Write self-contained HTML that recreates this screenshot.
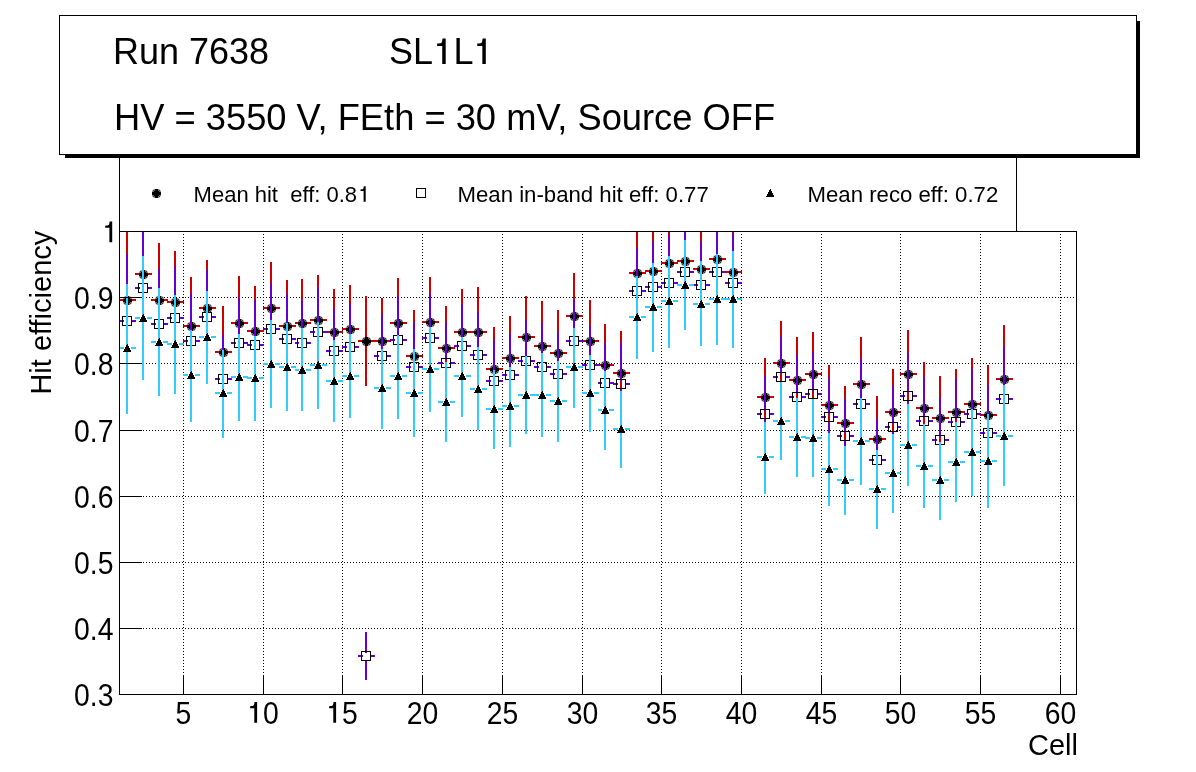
<!DOCTYPE html>
<html><head><meta charset="utf-8"><style>
html,body{margin:0;padding:0;background:#fff;}
svg{display:block;white-space:pre;will-change:transform;font-family:"Liberation Sans",sans-serif;}
</style></head><body>
<svg width="1196" height="772" viewBox="0 0 1196 772">
<rect x="0" y="0" width="1196" height="772" fill="#fff"/>
<defs><g id="m20" shape-rendering="crispEdges">
<rect x="-1" y="-4" width="3" height="9" fill="#000"/>
<rect x="-2" y="-2" width="5" height="5" fill="#000"/>
<rect x="-4" y="-1" width="9" height="3" fill="#000"/>
<path d="M-3,-3h1v1h-1zM-3,3h1v1h-1zM3,-3h1v1h-1zM3,3h1v1h-1z" fill="#3a3a3a"/>
<path d="M-3,-2h1v1h-1zM-3,2h1v1h-1zM-2,-3h1v1h-1zM-2,3h1v1h-1zM2,-3h1v1h-1zM2,3h1v1h-1zM3,-2h1v1h-1zM3,2h1v1h-1z" fill="#6a6a6a"/>
<path d="M-4,-2h1v1h-1zM-4,2h1v1h-1zM-2,-4h1v1h-1zM-2,4h1v1h-1zM2,-4h1v1h-1zM2,4h1v1h-1zM4,-2h1v1h-1zM4,2h1v1h-1z" fill="#8a8a8a"/>
<path d="M-4,-3h1v1h-1zM-4,3h1v1h-1zM-3,-4h1v1h-1zM-3,4h1v1h-1zM3,-4h1v1h-1zM3,4h1v1h-1zM4,-3h1v1h-1zM4,3h1v1h-1z" fill="#c8c8c8"/>

</g><path id="m22" d="M0,-4h1v1h-1zM-1,-3h2v1h-2zM-1,-2h3v1h-3zM-2,-1h4v1h-4zM-2,0h5v1h-5zM-3,1h6v1h-6zM-3,2h7v1h-7zM-4,3h8v1h-8z" fill="#000" shape-rendering="crispEdges"/></defs>
<!-- legend box -->
<rect x="119.5" y="140.5" width="897" height="91" fill="#fff" stroke="#000" stroke-width="1"/>
<!-- title box shadow -->
<rect x="65" y="155" width="1075" height="3" fill="#000"/>
<rect x="1137" y="21" width="3" height="137" fill="#000"/>
<rect x="59.5" y="15.5" width="1077" height="139" fill="#fff" stroke="#000" stroke-width="1"/>
<g font-size="36">
<text x="113" y="64">Run 7638</text>
<text x="389" y="64">SL</text><text x="453.4" y="64">L</text><path d="M445.70,38.40 L445.70,64.00 L442.24,64.00 L442.24,46.08 L437.12,46.08 L437.12,43.52 C442.88,43.52 441.73,41.98 442.59,38.40 Z" fill="#000"/><path d="M485.80,38.40 L485.80,64.00 L482.34,64.00 L482.34,46.08 L477.22,46.08 L477.22,43.52 C482.98,43.52 481.83,41.98 482.69,38.40 Z" fill="#000"/>
<text x="114" y="130" font-size="36.3">HV = 3550 V, FEth = 30 mV, Source OFF</text>
</g>
<g font-size="22">
<use href="#m20" x="156" y="193"/>
<text x="193.6" y="202">Mean hit&#160; eff: 0.8</text><path d="M365.70,186.30 L365.70,201.80 L363.61,201.80 L363.61,190.95 L360.51,190.95 L360.51,189.40 C364.00,189.40 363.30,188.47 363.82,186.30 Z" fill="#000"/>
<rect x="416.5" y="188.5" width="9" height="9" fill="none" stroke="#000" stroke-width="1"/>
<text x="457.5" y="202" font-size="22.2">Mean in-band hit eff: 0.77</text>
<use href="#m22" x="770" y="193"/>
<text x="807.5" y="202" font-size="22.2">Mean reco eff: 0.72</text>
</g>
<!-- frame -->
<line x1="183.5" y1="231" x2="183.5" y2="694" stroke="#000" stroke-width="1" stroke-dasharray="1 2"/><line x1="263.5" y1="231" x2="263.5" y2="694" stroke="#000" stroke-width="1" stroke-dasharray="1 2"/><line x1="342.5" y1="231" x2="342.5" y2="694" stroke="#000" stroke-width="1" stroke-dasharray="1 2"/><line x1="422.5" y1="231" x2="422.5" y2="694" stroke="#000" stroke-width="1" stroke-dasharray="1 2"/><line x1="502.5" y1="231" x2="502.5" y2="694" stroke="#000" stroke-width="1" stroke-dasharray="1 2"/><line x1="582.5" y1="231" x2="582.5" y2="694" stroke="#000" stroke-width="1" stroke-dasharray="1 2"/><line x1="661.5" y1="231" x2="661.5" y2="694" stroke="#000" stroke-width="1" stroke-dasharray="1 2"/><line x1="741.5" y1="231" x2="741.5" y2="694" stroke="#000" stroke-width="1" stroke-dasharray="1 2"/><line x1="821.5" y1="231" x2="821.5" y2="694" stroke="#000" stroke-width="1" stroke-dasharray="1 2"/><line x1="900.5" y1="231" x2="900.5" y2="694" stroke="#000" stroke-width="1" stroke-dasharray="1 2"/><line x1="980.5" y1="231" x2="980.5" y2="694" stroke="#000" stroke-width="1" stroke-dasharray="1 2"/><line x1="1060.5" y1="231" x2="1060.5" y2="694" stroke="#000" stroke-width="1" stroke-dasharray="1 2"/><line x1="119" y1="628.5" x2="1076" y2="628.5" stroke="#000" stroke-width="1" stroke-dasharray="1 2"/><line x1="119" y1="562.5" x2="1076" y2="562.5" stroke="#000" stroke-width="1" stroke-dasharray="1 2"/><line x1="119" y1="496.5" x2="1076" y2="496.5" stroke="#000" stroke-width="1" stroke-dasharray="1 2"/><line x1="119" y1="430.5" x2="1076" y2="430.5" stroke="#000" stroke-width="1" stroke-dasharray="1 2"/><line x1="119" y1="363.5" x2="1076" y2="363.5" stroke="#000" stroke-width="1" stroke-dasharray="1 2"/><line x1="119" y1="297.5" x2="1076" y2="297.5" stroke="#000" stroke-width="1" stroke-dasharray="1 2"/>
<rect x="126" y="232.00" width="2" height="64.00" fill="#cc0000"/><rect x="126" y="305.00" width="2" height="70.00" fill="#cc0000"/><rect x="119" y="299" width="4" height="2" fill="#cc0000"/><rect x="132" y="299" width="4" height="2" fill="#cc0000"/><use href="#m20" x="127" y="300"/><rect x="142" y="232.00" width="2" height="38.00" fill="#cc0000"/><rect x="142" y="279.00" width="2" height="68.00" fill="#cc0000"/><rect x="135" y="273" width="4" height="2" fill="#cc0000"/><rect x="148" y="273" width="4" height="2" fill="#cc0000"/><use href="#m20" x="143" y="274"/><rect x="158" y="243.00" width="2" height="53.00" fill="#cc0000"/><rect x="158" y="305.00" width="2" height="52.00" fill="#cc0000"/><rect x="151" y="299" width="4" height="2" fill="#cc0000"/><rect x="164" y="299" width="4" height="2" fill="#cc0000"/><use href="#m20" x="159" y="300"/><rect x="174" y="251.00" width="2" height="47.00" fill="#cc0000"/><rect x="174" y="307.00" width="2" height="45.00" fill="#cc0000"/><rect x="167" y="301" width="4" height="2" fill="#cc0000"/><rect x="180" y="301" width="4" height="2" fill="#cc0000"/><use href="#m20" x="175" y="302"/><rect x="190" y="277.00" width="2" height="45.00" fill="#cc0000"/><rect x="190" y="331.00" width="2" height="43.00" fill="#cc0000"/><rect x="183" y="325" width="4" height="2" fill="#cc0000"/><rect x="196" y="325" width="4" height="2" fill="#cc0000"/><use href="#m20" x="191" y="326"/><rect x="206" y="260.00" width="2" height="44.00" fill="#cc0000"/><rect x="206" y="313.00" width="2" height="43.00" fill="#cc0000"/><rect x="199" y="307" width="4" height="2" fill="#cc0000"/><rect x="212" y="307" width="4" height="2" fill="#cc0000"/><use href="#m20" x="207" y="308"/><rect x="222" y="306.00" width="2" height="42.00" fill="#cc0000"/><rect x="222" y="357.00" width="2" height="41.00" fill="#cc0000"/><rect x="215" y="351" width="4" height="2" fill="#cc0000"/><rect x="228" y="351" width="4" height="2" fill="#cc0000"/><use href="#m20" x="223" y="352"/><rect x="238" y="276.00" width="2" height="43.00" fill="#cc0000"/><rect x="238" y="328.00" width="2" height="42.00" fill="#cc0000"/><rect x="231" y="322" width="4" height="2" fill="#cc0000"/><rect x="244" y="322" width="4" height="2" fill="#cc0000"/><use href="#m20" x="239" y="323"/><rect x="254" y="286.00" width="2" height="41.00" fill="#cc0000"/><rect x="254" y="336.00" width="2" height="40.00" fill="#cc0000"/><rect x="247" y="330" width="4" height="2" fill="#cc0000"/><rect x="260" y="330" width="4" height="2" fill="#cc0000"/><use href="#m20" x="255" y="331"/><rect x="270" y="262.00" width="2" height="42.00" fill="#cc0000"/><rect x="270" y="313.00" width="2" height="41.00" fill="#cc0000"/><rect x="263" y="307" width="4" height="2" fill="#cc0000"/><rect x="276" y="307" width="4" height="2" fill="#cc0000"/><use href="#m20" x="271" y="308"/><rect x="286" y="280.00" width="2" height="42.00" fill="#cc0000"/><rect x="286" y="331.00" width="2" height="41.00" fill="#cc0000"/><rect x="279" y="325" width="4" height="2" fill="#cc0000"/><rect x="292" y="325" width="4" height="2" fill="#cc0000"/><use href="#m20" x="287" y="326"/><rect x="301" y="279.00" width="2" height="40.00" fill="#cc0000"/><rect x="301" y="328.00" width="2" height="40.00" fill="#cc0000"/><rect x="295" y="322" width="3" height="2" fill="#cc0000"/><rect x="307" y="322" width="4" height="2" fill="#cc0000"/><use href="#m20" x="302" y="323"/><rect x="317" y="275.00" width="2" height="41.00" fill="#cc0000"/><rect x="317" y="325.00" width="2" height="39.00" fill="#cc0000"/><rect x="310" y="319" width="4" height="2" fill="#cc0000"/><rect x="323" y="319" width="4" height="2" fill="#cc0000"/><use href="#m20" x="318" y="320"/><rect x="333" y="289.00" width="2" height="39.00" fill="#cc0000"/><rect x="333" y="337.00" width="2" height="38.00" fill="#cc0000"/><rect x="326" y="331" width="4" height="2" fill="#cc0000"/><rect x="339" y="331" width="4" height="2" fill="#cc0000"/><use href="#m20" x="334" y="332"/><rect x="349" y="285.00" width="2" height="40.00" fill="#cc0000"/><rect x="349" y="334.00" width="2" height="39.00" fill="#cc0000"/><rect x="342" y="328" width="4" height="2" fill="#cc0000"/><rect x="355" y="328" width="4" height="2" fill="#cc0000"/><use href="#m20" x="350" y="329"/><rect x="365" y="296.00" width="2" height="41.00" fill="#cc0000"/><rect x="365" y="346.00" width="2" height="40.00" fill="#cc0000"/><rect x="358" y="340" width="4" height="2" fill="#cc0000"/><rect x="371" y="340" width="4" height="2" fill="#cc0000"/><use href="#m20" x="366" y="341"/><rect x="381" y="298.00" width="2" height="39.00" fill="#cc0000"/><rect x="381" y="346.00" width="2" height="38.00" fill="#cc0000"/><rect x="374" y="340" width="4" height="2" fill="#cc0000"/><rect x="387" y="340" width="4" height="2" fill="#cc0000"/><use href="#m20" x="382" y="341"/><rect x="397" y="278.00" width="2" height="41.00" fill="#cc0000"/><rect x="397" y="328.00" width="2" height="40.00" fill="#cc0000"/><rect x="390" y="322" width="4" height="2" fill="#cc0000"/><rect x="403" y="322" width="4" height="2" fill="#cc0000"/><use href="#m20" x="398" y="323"/><rect x="413" y="310.00" width="2" height="42.00" fill="#cc0000"/><rect x="413" y="361.00" width="2" height="41.00" fill="#cc0000"/><rect x="406" y="355" width="4" height="2" fill="#cc0000"/><rect x="419" y="355" width="4" height="2" fill="#cc0000"/><use href="#m20" x="414" y="356"/><rect x="429" y="277.00" width="2" height="41.00" fill="#cc0000"/><rect x="429" y="327.00" width="2" height="40.00" fill="#cc0000"/><rect x="422" y="321" width="4" height="2" fill="#cc0000"/><rect x="435" y="321" width="4" height="2" fill="#cc0000"/><use href="#m20" x="430" y="322"/><rect x="445" y="306.00" width="2" height="38.00" fill="#cc0000"/><rect x="445" y="353.00" width="2" height="37.00" fill="#cc0000"/><rect x="438" y="347" width="4" height="2" fill="#cc0000"/><rect x="451" y="347" width="4" height="2" fill="#cc0000"/><use href="#m20" x="446" y="348"/><rect x="461" y="289.00" width="2" height="39.00" fill="#cc0000"/><rect x="461" y="337.00" width="2" height="37.00" fill="#cc0000"/><rect x="454" y="331" width="4" height="2" fill="#cc0000"/><rect x="467" y="331" width="4" height="2" fill="#cc0000"/><use href="#m20" x="462" y="332"/><rect x="477" y="287.00" width="2" height="41.00" fill="#cc0000"/><rect x="477" y="337.00" width="2" height="39.00" fill="#cc0000"/><rect x="470" y="331" width="4" height="2" fill="#cc0000"/><rect x="483" y="331" width="4" height="2" fill="#cc0000"/><use href="#m20" x="478" y="332"/><rect x="493" y="327.00" width="2" height="38.00" fill="#cc0000"/><rect x="493" y="374.00" width="2" height="37.00" fill="#cc0000"/><rect x="486" y="368" width="4" height="2" fill="#cc0000"/><rect x="499" y="368" width="4" height="2" fill="#cc0000"/><use href="#m20" x="494" y="369"/><rect x="509" y="316.00" width="2" height="38.00" fill="#cc0000"/><rect x="509" y="363.00" width="2" height="37.00" fill="#cc0000"/><rect x="502" y="357" width="4" height="2" fill="#cc0000"/><rect x="515" y="357" width="4" height="2" fill="#cc0000"/><use href="#m20" x="510" y="358"/><rect x="525" y="296.00" width="2" height="37.00" fill="#cc0000"/><rect x="525" y="342.00" width="2" height="36.00" fill="#cc0000"/><rect x="518" y="336" width="4" height="2" fill="#cc0000"/><rect x="531" y="336" width="4" height="2" fill="#cc0000"/><use href="#m20" x="526" y="337"/><rect x="541" y="301.00" width="2" height="41.00" fill="#cc0000"/><rect x="541" y="351.00" width="2" height="40.00" fill="#cc0000"/><rect x="534" y="345" width="4" height="2" fill="#cc0000"/><rect x="547" y="345" width="4" height="2" fill="#cc0000"/><use href="#m20" x="542" y="346"/><rect x="557" y="310.00" width="2" height="39.00" fill="#cc0000"/><rect x="557" y="358.00" width="2" height="38.00" fill="#cc0000"/><rect x="550" y="352" width="4" height="2" fill="#cc0000"/><rect x="563" y="352" width="4" height="2" fill="#cc0000"/><use href="#m20" x="558" y="353"/><rect x="573" y="273.00" width="2" height="39.00" fill="#cc0000"/><rect x="573" y="321.00" width="2" height="38.00" fill="#cc0000"/><rect x="566" y="315" width="4" height="2" fill="#cc0000"/><rect x="579" y="315" width="4" height="2" fill="#cc0000"/><use href="#m20" x="574" y="316"/><rect x="589" y="300.00" width="2" height="37.00" fill="#cc0000"/><rect x="589" y="346.00" width="2" height="36.00" fill="#cc0000"/><rect x="582" y="340" width="4" height="2" fill="#cc0000"/><rect x="595" y="340" width="4" height="2" fill="#cc0000"/><use href="#m20" x="590" y="341"/><rect x="604" y="324.00" width="2" height="37.00" fill="#cc0000"/><rect x="604" y="370.00" width="2" height="35.00" fill="#cc0000"/><rect x="598" y="364" width="3" height="2" fill="#cc0000"/><rect x="610" y="364" width="4" height="2" fill="#cc0000"/><use href="#m20" x="605" y="365"/><rect x="620" y="331.00" width="2" height="38.00" fill="#cc0000"/><rect x="620" y="378.00" width="2" height="37.00" fill="#cc0000"/><rect x="613" y="372" width="4" height="2" fill="#cc0000"/><rect x="626" y="372" width="4" height="2" fill="#cc0000"/><use href="#m20" x="621" y="373"/><rect x="636" y="232.00" width="2" height="37.00" fill="#cc0000"/><rect x="636" y="278.00" width="2" height="67.00" fill="#cc0000"/><rect x="629" y="272" width="4" height="2" fill="#cc0000"/><rect x="642" y="272" width="4" height="2" fill="#cc0000"/><use href="#m20" x="637" y="273"/><rect x="652" y="232.00" width="2" height="35.00" fill="#cc0000"/><rect x="652" y="276.00" width="2" height="66.00" fill="#cc0000"/><rect x="645" y="270" width="4" height="2" fill="#cc0000"/><rect x="658" y="270" width="4" height="2" fill="#cc0000"/><use href="#m20" x="653" y="271"/><rect x="668" y="232.00" width="2" height="27.00" fill="#cc0000"/><rect x="668" y="268.00" width="2" height="58.00" fill="#cc0000"/><rect x="661" y="262" width="4" height="2" fill="#cc0000"/><rect x="674" y="262" width="4" height="2" fill="#cc0000"/><use href="#m20" x="669" y="263"/><rect x="684" y="232.00" width="2" height="25.00" fill="#cc0000"/><rect x="684" y="266.00" width="2" height="55.00" fill="#cc0000"/><rect x="677" y="260" width="4" height="2" fill="#cc0000"/><rect x="690" y="260" width="4" height="2" fill="#cc0000"/><use href="#m20" x="685" y="261"/><rect x="700" y="232.00" width="2" height="33.00" fill="#cc0000"/><rect x="700" y="274.00" width="2" height="64.00" fill="#cc0000"/><rect x="693" y="268" width="4" height="2" fill="#cc0000"/><rect x="706" y="268" width="4" height="2" fill="#cc0000"/><use href="#m20" x="701" y="269"/><rect x="716" y="232.00" width="2" height="23.00" fill="#cc0000"/><rect x="716" y="264.00" width="2" height="53.00" fill="#cc0000"/><rect x="709" y="258" width="4" height="2" fill="#cc0000"/><rect x="722" y="258" width="4" height="2" fill="#cc0000"/><use href="#m20" x="717" y="259"/><rect x="732" y="232.00" width="2" height="36.00" fill="#cc0000"/><rect x="732" y="277.00" width="2" height="67.00" fill="#cc0000"/><rect x="725" y="271" width="4" height="2" fill="#cc0000"/><rect x="738" y="271" width="4" height="2" fill="#cc0000"/><use href="#m20" x="733" y="272"/><rect x="764" y="358.00" width="2" height="35.00" fill="#cc0000"/><rect x="764" y="402.00" width="2" height="34.00" fill="#cc0000"/><rect x="757" y="396" width="4" height="2" fill="#cc0000"/><rect x="770" y="396" width="4" height="2" fill="#cc0000"/><use href="#m20" x="765" y="397"/><rect x="780" y="321.00" width="2" height="38.00" fill="#cc0000"/><rect x="780" y="368.00" width="2" height="36.00" fill="#cc0000"/><rect x="773" y="362" width="4" height="2" fill="#cc0000"/><rect x="786" y="362" width="4" height="2" fill="#cc0000"/><use href="#m20" x="781" y="363"/><rect x="796" y="337.00" width="2" height="39.00" fill="#cc0000"/><rect x="796" y="385.00" width="2" height="38.00" fill="#cc0000"/><rect x="789" y="379" width="4" height="2" fill="#cc0000"/><rect x="802" y="379" width="4" height="2" fill="#cc0000"/><use href="#m20" x="797" y="380"/><rect x="812" y="332.00" width="2" height="38.00" fill="#cc0000"/><rect x="812" y="379.00" width="2" height="37.00" fill="#cc0000"/><rect x="805" y="373" width="4" height="2" fill="#cc0000"/><rect x="818" y="373" width="4" height="2" fill="#cc0000"/><use href="#m20" x="813" y="374"/><rect x="828" y="365.00" width="2" height="36.00" fill="#cc0000"/><rect x="828" y="410.00" width="2" height="36.00" fill="#cc0000"/><rect x="821" y="404" width="4" height="2" fill="#cc0000"/><rect x="834" y="404" width="4" height="2" fill="#cc0000"/><use href="#m20" x="829" y="405"/><rect x="844" y="386.00" width="2" height="33.00" fill="#cc0000"/><rect x="844" y="428.00" width="2" height="32.00" fill="#cc0000"/><rect x="837" y="422" width="4" height="2" fill="#cc0000"/><rect x="850" y="422" width="4" height="2" fill="#cc0000"/><use href="#m20" x="845" y="423"/><rect x="860" y="337.00" width="2" height="43.00" fill="#cc0000"/><rect x="860" y="389.00" width="2" height="41.00" fill="#cc0000"/><rect x="853" y="383" width="4" height="2" fill="#cc0000"/><rect x="866" y="383" width="4" height="2" fill="#cc0000"/><use href="#m20" x="861" y="384"/><rect x="876" y="396.00" width="2" height="39.00" fill="#cc0000"/><rect x="876" y="444.00" width="2" height="38.00" fill="#cc0000"/><rect x="869" y="438" width="4" height="2" fill="#cc0000"/><rect x="882" y="438" width="4" height="2" fill="#cc0000"/><use href="#m20" x="877" y="439"/><rect x="892" y="369.00" width="2" height="39.00" fill="#cc0000"/><rect x="892" y="417.00" width="2" height="38.00" fill="#cc0000"/><rect x="885" y="411" width="4" height="2" fill="#cc0000"/><rect x="898" y="411" width="3" height="2" fill="#cc0000"/><use href="#m20" x="893" y="412"/><rect x="907" y="330.00" width="2" height="40.00" fill="#cc0000"/><rect x="907" y="379.00" width="2" height="39.00" fill="#cc0000"/><rect x="900" y="373" width="4" height="2" fill="#cc0000"/><rect x="913" y="373" width="4" height="2" fill="#cc0000"/><use href="#m20" x="908" y="374"/><rect x="923" y="362.00" width="2" height="42.00" fill="#cc0000"/><rect x="923" y="413.00" width="2" height="41.00" fill="#cc0000"/><rect x="916" y="407" width="4" height="2" fill="#cc0000"/><rect x="929" y="407" width="4" height="2" fill="#cc0000"/><use href="#m20" x="924" y="408"/><rect x="939" y="376.00" width="2" height="38.00" fill="#cc0000"/><rect x="939" y="423.00" width="2" height="37.00" fill="#cc0000"/><rect x="932" y="417" width="4" height="2" fill="#cc0000"/><rect x="945" y="417" width="4" height="2" fill="#cc0000"/><use href="#m20" x="940" y="418"/><rect x="955" y="369.00" width="2" height="39.00" fill="#cc0000"/><rect x="955" y="417.00" width="2" height="38.00" fill="#cc0000"/><rect x="948" y="411" width="4" height="2" fill="#cc0000"/><rect x="961" y="411" width="4" height="2" fill="#cc0000"/><use href="#m20" x="956" y="412"/><rect x="971" y="358.00" width="2" height="42.00" fill="#cc0000"/><rect x="971" y="409.00" width="2" height="40.00" fill="#cc0000"/><rect x="964" y="403" width="4" height="2" fill="#cc0000"/><rect x="977" y="403" width="4" height="2" fill="#cc0000"/><use href="#m20" x="972" y="404"/><rect x="987" y="365.00" width="2" height="46.00" fill="#cc0000"/><rect x="987" y="420.00" width="2" height="45.00" fill="#cc0000"/><rect x="980" y="414" width="4" height="2" fill="#cc0000"/><rect x="993" y="414" width="4" height="2" fill="#cc0000"/><use href="#m20" x="988" y="415"/><rect x="1003" y="325.00" width="2" height="50.00" fill="#cc0000"/><rect x="1003" y="384.00" width="2" height="48.00" fill="#cc0000"/><rect x="996" y="378" width="4" height="2" fill="#cc0000"/><rect x="1009" y="378" width="4" height="2" fill="#cc0000"/><use href="#m20" x="1004" y="379"/><rect x="126" y="254.00" width="2" height="64.00" fill="#6600cc"/><rect x="126" y="326.00" width="2" height="61.00" fill="#6600cc"/><rect x="119" y="320" width="5" height="2" fill="#6600cc"/><rect x="132" y="320" width="4" height="2" fill="#6600cc"/><rect x="122.5" y="316.5" width="9" height="9" fill="none" stroke="#000" stroke-width="1"/><rect x="142" y="232.00" width="2" height="53.00" fill="#6600cc"/><rect x="142" y="293.00" width="2" height="68.00" fill="#6600cc"/><rect x="135" y="287" width="5" height="2" fill="#6600cc"/><rect x="148" y="287" width="4" height="2" fill="#6600cc"/><rect x="138.5" y="283.5" width="9" height="9" fill="none" stroke="#000" stroke-width="1"/><rect x="158" y="269.00" width="2" height="52.00" fill="#6600cc"/><rect x="158" y="329.00" width="2" height="50.00" fill="#6600cc"/><rect x="151" y="323" width="5" height="2" fill="#6600cc"/><rect x="164" y="323" width="4" height="2" fill="#6600cc"/><rect x="154.5" y="319.5" width="9" height="9" fill="none" stroke="#000" stroke-width="1"/><rect x="174" y="267.00" width="2" height="48.00" fill="#6600cc"/><rect x="174" y="323.00" width="2" height="45.00" fill="#6600cc"/><rect x="167" y="317" width="5" height="2" fill="#6600cc"/><rect x="180" y="317" width="4" height="2" fill="#6600cc"/><rect x="170.5" y="313.5" width="9" height="9" fill="none" stroke="#000" stroke-width="1"/><rect x="190" y="294.00" width="2" height="44.00" fill="#6600cc"/><rect x="190" y="346.00" width="2" height="42.00" fill="#6600cc"/><rect x="183" y="340" width="5" height="2" fill="#6600cc"/><rect x="196" y="340" width="4" height="2" fill="#6600cc"/><rect x="186.5" y="336.5" width="9" height="9" fill="none" stroke="#000" stroke-width="1"/><rect x="206" y="270.00" width="2" height="44.00" fill="#6600cc"/><rect x="206" y="322.00" width="2" height="42.00" fill="#6600cc"/><rect x="199" y="316" width="5" height="2" fill="#6600cc"/><rect x="212" y="316" width="4" height="2" fill="#6600cc"/><rect x="202.5" y="312.5" width="9" height="9" fill="none" stroke="#000" stroke-width="1"/><rect x="222" y="335.00" width="2" height="41.00" fill="#6600cc"/><rect x="222" y="384.00" width="2" height="39.00" fill="#6600cc"/><rect x="215" y="378" width="5" height="2" fill="#6600cc"/><rect x="228" y="378" width="4" height="2" fill="#6600cc"/><rect x="218.5" y="374.5" width="9" height="9" fill="none" stroke="#000" stroke-width="1"/><rect x="238" y="298.00" width="2" height="42.00" fill="#6600cc"/><rect x="238" y="348.00" width="2" height="39.00" fill="#6600cc"/><rect x="231" y="342" width="5" height="2" fill="#6600cc"/><rect x="244" y="342" width="4" height="2" fill="#6600cc"/><rect x="234.5" y="338.5" width="9" height="9" fill="none" stroke="#000" stroke-width="1"/><rect x="254" y="300.00" width="2" height="42.00" fill="#6600cc"/><rect x="254" y="350.00" width="2" height="39.00" fill="#6600cc"/><rect x="247" y="344" width="5" height="2" fill="#6600cc"/><rect x="260" y="344" width="4" height="2" fill="#6600cc"/><rect x="250.5" y="340.5" width="9" height="9" fill="none" stroke="#000" stroke-width="1"/><rect x="270" y="284.00" width="2" height="42.00" fill="#6600cc"/><rect x="270" y="334.00" width="2" height="40.00" fill="#6600cc"/><rect x="263" y="328" width="5" height="2" fill="#6600cc"/><rect x="276" y="328" width="4" height="2" fill="#6600cc"/><rect x="266.5" y="324.5" width="9" height="9" fill="none" stroke="#000" stroke-width="1"/><rect x="286" y="294.00" width="2" height="42.00" fill="#6600cc"/><rect x="286" y="344.00" width="2" height="40.00" fill="#6600cc"/><rect x="279" y="338" width="5" height="2" fill="#6600cc"/><rect x="292" y="338" width="4" height="2" fill="#6600cc"/><rect x="282.5" y="334.5" width="9" height="9" fill="none" stroke="#000" stroke-width="1"/><rect x="301" y="300.00" width="2" height="40.00" fill="#6600cc"/><rect x="301" y="348.00" width="2" height="37.00" fill="#6600cc"/><rect x="295" y="342" width="4" height="2" fill="#6600cc"/><rect x="307" y="342" width="4" height="2" fill="#6600cc"/><rect x="297.5" y="338.5" width="9" height="9" fill="none" stroke="#000" stroke-width="1"/><rect x="317" y="287.00" width="2" height="42.00" fill="#6600cc"/><rect x="317" y="337.00" width="2" height="40.00" fill="#6600cc"/><rect x="310" y="331" width="5" height="2" fill="#6600cc"/><rect x="323" y="331" width="4" height="2" fill="#6600cc"/><rect x="313.5" y="327.5" width="9" height="9" fill="none" stroke="#000" stroke-width="1"/><rect x="333" y="309.00" width="2" height="39.00" fill="#6600cc"/><rect x="333" y="356.00" width="2" height="37.00" fill="#6600cc"/><rect x="326" y="350" width="5" height="2" fill="#6600cc"/><rect x="339" y="350" width="4" height="2" fill="#6600cc"/><rect x="329.5" y="346.5" width="9" height="9" fill="none" stroke="#000" stroke-width="1"/><rect x="349" y="304.00" width="2" height="40.00" fill="#6600cc"/><rect x="349" y="352.00" width="2" height="38.00" fill="#6600cc"/><rect x="342" y="346" width="5" height="2" fill="#6600cc"/><rect x="355" y="346" width="4" height="2" fill="#6600cc"/><rect x="345.5" y="342.5" width="9" height="9" fill="none" stroke="#000" stroke-width="1"/><rect x="365" y="632.00" width="2" height="21.00" fill="#6600cc"/><rect x="365" y="661.00" width="2" height="19.00" fill="#6600cc"/><rect x="358" y="655" width="5" height="2" fill="#6600cc"/><rect x="371" y="655" width="4" height="2" fill="#6600cc"/><rect x="361.5" y="651.5" width="9" height="9" fill="none" stroke="#000" stroke-width="1"/><rect x="381" y="314.00" width="2" height="39.00" fill="#6600cc"/><rect x="381" y="361.00" width="2" height="36.00" fill="#6600cc"/><rect x="374" y="355" width="5" height="2" fill="#6600cc"/><rect x="387" y="355" width="4" height="2" fill="#6600cc"/><rect x="377.5" y="351.5" width="9" height="9" fill="none" stroke="#000" stroke-width="1"/><rect x="397" y="296.00" width="2" height="41.00" fill="#6600cc"/><rect x="397" y="345.00" width="2" height="39.00" fill="#6600cc"/><rect x="390" y="339" width="5" height="2" fill="#6600cc"/><rect x="403" y="339" width="4" height="2" fill="#6600cc"/><rect x="393.5" y="335.5" width="9" height="9" fill="none" stroke="#000" stroke-width="1"/><rect x="413" y="322.00" width="2" height="42.00" fill="#6600cc"/><rect x="413" y="372.00" width="2" height="40.00" fill="#6600cc"/><rect x="406" y="366" width="5" height="2" fill="#6600cc"/><rect x="419" y="366" width="4" height="2" fill="#6600cc"/><rect x="409.5" y="362.5" width="9" height="9" fill="none" stroke="#000" stroke-width="1"/><rect x="429" y="294.00" width="2" height="41.00" fill="#6600cc"/><rect x="429" y="343.00" width="2" height="38.00" fill="#6600cc"/><rect x="422" y="337" width="5" height="2" fill="#6600cc"/><rect x="435" y="337" width="4" height="2" fill="#6600cc"/><rect x="425.5" y="333.5" width="9" height="9" fill="none" stroke="#000" stroke-width="1"/><rect x="445" y="322.00" width="2" height="38.00" fill="#6600cc"/><rect x="445" y="368.00" width="2" height="36.00" fill="#6600cc"/><rect x="438" y="362" width="5" height="2" fill="#6600cc"/><rect x="451" y="362" width="4" height="2" fill="#6600cc"/><rect x="441.5" y="358.5" width="9" height="9" fill="none" stroke="#000" stroke-width="1"/><rect x="461" y="304.00" width="2" height="39.00" fill="#6600cc"/><rect x="461" y="351.00" width="2" height="37.00" fill="#6600cc"/><rect x="454" y="345" width="5" height="2" fill="#6600cc"/><rect x="467" y="345" width="4" height="2" fill="#6600cc"/><rect x="457.5" y="341.5" width="9" height="9" fill="none" stroke="#000" stroke-width="1"/><rect x="477" y="312.00" width="2" height="40.00" fill="#6600cc"/><rect x="477" y="360.00" width="2" height="37.00" fill="#6600cc"/><rect x="470" y="354" width="5" height="2" fill="#6600cc"/><rect x="483" y="354" width="4" height="2" fill="#6600cc"/><rect x="473.5" y="350.5" width="9" height="9" fill="none" stroke="#000" stroke-width="1"/><rect x="493" y="340.00" width="2" height="38.00" fill="#6600cc"/><rect x="493" y="386.00" width="2" height="36.00" fill="#6600cc"/><rect x="486" y="380" width="5" height="2" fill="#6600cc"/><rect x="499" y="380" width="4" height="2" fill="#6600cc"/><rect x="489.5" y="376.5" width="9" height="9" fill="none" stroke="#000" stroke-width="1"/><rect x="509" y="334.00" width="2" height="38.00" fill="#6600cc"/><rect x="509" y="380.00" width="2" height="36.00" fill="#6600cc"/><rect x="502" y="374" width="5" height="2" fill="#6600cc"/><rect x="515" y="374" width="4" height="2" fill="#6600cc"/><rect x="505.5" y="370.5" width="9" height="9" fill="none" stroke="#000" stroke-width="1"/><rect x="525" y="320.00" width="2" height="38.00" fill="#6600cc"/><rect x="525" y="366.00" width="2" height="36.00" fill="#6600cc"/><rect x="518" y="360" width="5" height="2" fill="#6600cc"/><rect x="531" y="360" width="4" height="2" fill="#6600cc"/><rect x="521.5" y="356.5" width="9" height="9" fill="none" stroke="#000" stroke-width="1"/><rect x="541" y="323.00" width="2" height="41.00" fill="#6600cc"/><rect x="541" y="372.00" width="2" height="39.00" fill="#6600cc"/><rect x="534" y="366" width="5" height="2" fill="#6600cc"/><rect x="547" y="366" width="4" height="2" fill="#6600cc"/><rect x="537.5" y="362.5" width="9" height="9" fill="none" stroke="#000" stroke-width="1"/><rect x="557" y="332.00" width="2" height="39.00" fill="#6600cc"/><rect x="557" y="379.00" width="2" height="37.00" fill="#6600cc"/><rect x="550" y="373" width="5" height="2" fill="#6600cc"/><rect x="563" y="373" width="4" height="2" fill="#6600cc"/><rect x="553.5" y="369.5" width="9" height="9" fill="none" stroke="#000" stroke-width="1"/><rect x="573" y="300.00" width="2" height="38.00" fill="#6600cc"/><rect x="573" y="346.00" width="2" height="36.00" fill="#6600cc"/><rect x="566" y="340" width="5" height="2" fill="#6600cc"/><rect x="579" y="340" width="4" height="2" fill="#6600cc"/><rect x="569.5" y="336.5" width="9" height="9" fill="none" stroke="#000" stroke-width="1"/><rect x="589" y="326.00" width="2" height="36.00" fill="#6600cc"/><rect x="589" y="370.00" width="2" height="34.00" fill="#6600cc"/><rect x="582" y="364" width="5" height="2" fill="#6600cc"/><rect x="595" y="364" width="4" height="2" fill="#6600cc"/><rect x="585.5" y="360.5" width="9" height="9" fill="none" stroke="#000" stroke-width="1"/><rect x="604" y="343.00" width="2" height="37.00" fill="#6600cc"/><rect x="604" y="388.00" width="2" height="35.00" fill="#6600cc"/><rect x="598" y="382" width="4" height="2" fill="#6600cc"/><rect x="610" y="382" width="4" height="2" fill="#6600cc"/><rect x="600.5" y="378.5" width="9" height="9" fill="none" stroke="#000" stroke-width="1"/><rect x="620" y="343.00" width="2" height="38.00" fill="#6600cc"/><rect x="620" y="389.00" width="2" height="36.00" fill="#6600cc"/><rect x="613" y="383" width="5" height="2" fill="#6600cc"/><rect x="626" y="383" width="4" height="2" fill="#6600cc"/><rect x="616.5" y="379.5" width="9" height="9" fill="none" stroke="#000" stroke-width="1"/><rect x="636" y="248.00" width="2" height="40.00" fill="#6600cc"/><rect x="636" y="296.00" width="2" height="37.00" fill="#6600cc"/><rect x="629" y="290" width="5" height="2" fill="#6600cc"/><rect x="642" y="290" width="4" height="2" fill="#6600cc"/><rect x="632.5" y="286.5" width="9" height="9" fill="none" stroke="#000" stroke-width="1"/><rect x="652" y="242.00" width="2" height="42.00" fill="#6600cc"/><rect x="652" y="292.00" width="2" height="39.00" fill="#6600cc"/><rect x="645" y="286" width="5" height="2" fill="#6600cc"/><rect x="658" y="286" width="4" height="2" fill="#6600cc"/><rect x="648.5" y="282.5" width="9" height="9" fill="none" stroke="#000" stroke-width="1"/><rect x="668" y="235.00" width="2" height="45.00" fill="#6600cc"/><rect x="668" y="288.00" width="2" height="42.00" fill="#6600cc"/><rect x="661" y="282" width="5" height="2" fill="#6600cc"/><rect x="674" y="282" width="4" height="2" fill="#6600cc"/><rect x="664.5" y="278.5" width="9" height="9" fill="none" stroke="#000" stroke-width="1"/><rect x="684" y="232.00" width="2" height="37.00" fill="#6600cc"/><rect x="684" y="277.00" width="2" height="51.00" fill="#6600cc"/><rect x="677" y="271" width="5" height="2" fill="#6600cc"/><rect x="690" y="271" width="4" height="2" fill="#6600cc"/><rect x="680.5" y="267.5" width="9" height="9" fill="none" stroke="#000" stroke-width="1"/><rect x="700" y="242.00" width="2" height="40.00" fill="#6600cc"/><rect x="700" y="290.00" width="2" height="37.00" fill="#6600cc"/><rect x="693" y="284" width="5" height="2" fill="#6600cc"/><rect x="706" y="284" width="4" height="2" fill="#6600cc"/><rect x="696.5" y="280.5" width="9" height="9" fill="none" stroke="#000" stroke-width="1"/><rect x="716" y="232.00" width="2" height="37.00" fill="#6600cc"/><rect x="716" y="277.00" width="2" height="51.00" fill="#6600cc"/><rect x="709" y="271" width="5" height="2" fill="#6600cc"/><rect x="722" y="271" width="4" height="2" fill="#6600cc"/><rect x="712.5" y="267.5" width="9" height="9" fill="none" stroke="#000" stroke-width="1"/><rect x="732" y="234.00" width="2" height="46.00" fill="#6600cc"/><rect x="732" y="288.00" width="2" height="44.00" fill="#6600cc"/><rect x="725" y="282" width="5" height="2" fill="#6600cc"/><rect x="738" y="282" width="4" height="2" fill="#6600cc"/><rect x="728.5" y="278.5" width="9" height="9" fill="none" stroke="#000" stroke-width="1"/><rect x="764" y="376.00" width="2" height="35.00" fill="#6600cc"/><rect x="764" y="419.00" width="2" height="32.00" fill="#6600cc"/><rect x="757" y="413" width="5" height="2" fill="#6600cc"/><rect x="770" y="413" width="4" height="2" fill="#6600cc"/><rect x="760.5" y="409.5" width="9" height="9" fill="none" stroke="#000" stroke-width="1"/><rect x="780" y="337.00" width="2" height="37.00" fill="#6600cc"/><rect x="780" y="382.00" width="2" height="35.00" fill="#6600cc"/><rect x="773" y="376" width="5" height="2" fill="#6600cc"/><rect x="786" y="376" width="4" height="2" fill="#6600cc"/><rect x="776.5" y="372.5" width="9" height="9" fill="none" stroke="#000" stroke-width="1"/><rect x="796" y="355.00" width="2" height="39.00" fill="#6600cc"/><rect x="796" y="402.00" width="2" height="37.00" fill="#6600cc"/><rect x="789" y="396" width="5" height="2" fill="#6600cc"/><rect x="802" y="396" width="4" height="2" fill="#6600cc"/><rect x="792.5" y="392.5" width="9" height="9" fill="none" stroke="#000" stroke-width="1"/><rect x="812" y="353.00" width="2" height="38.00" fill="#6600cc"/><rect x="812" y="399.00" width="2" height="36.00" fill="#6600cc"/><rect x="805" y="393" width="5" height="2" fill="#6600cc"/><rect x="818" y="393" width="4" height="2" fill="#6600cc"/><rect x="808.5" y="389.5" width="9" height="9" fill="none" stroke="#000" stroke-width="1"/><rect x="828" y="378.00" width="2" height="36.00" fill="#6600cc"/><rect x="828" y="422.00" width="2" height="34.00" fill="#6600cc"/><rect x="821" y="416" width="5" height="2" fill="#6600cc"/><rect x="834" y="416" width="4" height="2" fill="#6600cc"/><rect x="824.5" y="412.5" width="9" height="9" fill="none" stroke="#000" stroke-width="1"/><rect x="844" y="399.00" width="2" height="34.00" fill="#6600cc"/><rect x="844" y="441.00" width="2" height="32.00" fill="#6600cc"/><rect x="837" y="435" width="5" height="2" fill="#6600cc"/><rect x="850" y="435" width="4" height="2" fill="#6600cc"/><rect x="840.5" y="431.5" width="9" height="9" fill="none" stroke="#000" stroke-width="1"/><rect x="860" y="359.00" width="2" height="42.00" fill="#6600cc"/><rect x="860" y="409.00" width="2" height="39.00" fill="#6600cc"/><rect x="853" y="403" width="5" height="2" fill="#6600cc"/><rect x="866" y="403" width="4" height="2" fill="#6600cc"/><rect x="856.5" y="399.5" width="9" height="9" fill="none" stroke="#000" stroke-width="1"/><rect x="876" y="419.00" width="2" height="38.00" fill="#6600cc"/><rect x="876" y="465.00" width="2" height="36.00" fill="#6600cc"/><rect x="869" y="459" width="5" height="2" fill="#6600cc"/><rect x="882" y="459" width="4" height="2" fill="#6600cc"/><rect x="872.5" y="455.5" width="9" height="9" fill="none" stroke="#000" stroke-width="1"/><rect x="892" y="386.00" width="2" height="38.00" fill="#6600cc"/><rect x="892" y="432.00" width="2" height="36.00" fill="#6600cc"/><rect x="885" y="426" width="5" height="2" fill="#6600cc"/><rect x="898" y="426" width="3" height="2" fill="#6600cc"/><rect x="888.5" y="422.5" width="9" height="9" fill="none" stroke="#000" stroke-width="1"/><rect x="907" y="353.00" width="2" height="40.00" fill="#6600cc"/><rect x="907" y="401.00" width="2" height="37.00" fill="#6600cc"/><rect x="900" y="395" width="5" height="2" fill="#6600cc"/><rect x="913" y="395" width="4" height="2" fill="#6600cc"/><rect x="903.5" y="391.5" width="9" height="9" fill="none" stroke="#000" stroke-width="1"/><rect x="923" y="377.00" width="2" height="41.00" fill="#6600cc"/><rect x="923" y="426.00" width="2" height="38.00" fill="#6600cc"/><rect x="916" y="420" width="5" height="2" fill="#6600cc"/><rect x="929" y="420" width="4" height="2" fill="#6600cc"/><rect x="919.5" y="416.5" width="9" height="9" fill="none" stroke="#000" stroke-width="1"/><rect x="939" y="398.00" width="2" height="39.00" fill="#6600cc"/><rect x="939" y="445.00" width="2" height="37.00" fill="#6600cc"/><rect x="932" y="439" width="5" height="2" fill="#6600cc"/><rect x="945" y="439" width="4" height="2" fill="#6600cc"/><rect x="935.5" y="435.5" width="9" height="9" fill="none" stroke="#000" stroke-width="1"/><rect x="955" y="379.00" width="2" height="40.00" fill="#6600cc"/><rect x="955" y="427.00" width="2" height="38.00" fill="#6600cc"/><rect x="948" y="421" width="5" height="2" fill="#6600cc"/><rect x="961" y="421" width="4" height="2" fill="#6600cc"/><rect x="951.5" y="417.5" width="9" height="9" fill="none" stroke="#000" stroke-width="1"/><rect x="971" y="369.00" width="2" height="42.00" fill="#6600cc"/><rect x="971" y="419.00" width="2" height="40.00" fill="#6600cc"/><rect x="964" y="413" width="5" height="2" fill="#6600cc"/><rect x="977" y="413" width="4" height="2" fill="#6600cc"/><rect x="967.5" y="409.5" width="9" height="9" fill="none" stroke="#000" stroke-width="1"/><rect x="987" y="385.00" width="2" height="45.00" fill="#6600cc"/><rect x="987" y="438.00" width="2" height="43.00" fill="#6600cc"/><rect x="980" y="432" width="5" height="2" fill="#6600cc"/><rect x="993" y="432" width="4" height="2" fill="#6600cc"/><rect x="983.5" y="428.5" width="9" height="9" fill="none" stroke="#000" stroke-width="1"/><rect x="1003" y="347.00" width="2" height="49.00" fill="#6600cc"/><rect x="1003" y="404.00" width="2" height="47.00" fill="#6600cc"/><rect x="996" y="398" width="5" height="2" fill="#6600cc"/><rect x="1009" y="398" width="4" height="2" fill="#6600cc"/><rect x="999.5" y="394.5" width="9" height="9" fill="none" stroke="#000" stroke-width="1"/><rect x="126" y="284.00" width="2" height="61.00" fill="#33ccff"/><rect x="126" y="352.00" width="2" height="62.00" fill="#33ccff"/><rect x="119" y="347" width="5" height="2" fill="#33ccff"/><rect x="131" y="347" width="5" height="2" fill="#33ccff"/><use href="#m22" x="127" y="348"/><rect x="142" y="256.00" width="2" height="59.00" fill="#33ccff"/><rect x="142" y="322.00" width="2" height="58.00" fill="#33ccff"/><rect x="135" y="317" width="5" height="2" fill="#33ccff"/><rect x="147" y="317" width="5" height="2" fill="#33ccff"/><use href="#m22" x="143" y="318"/><rect x="158" y="288.00" width="2" height="51.00" fill="#33ccff"/><rect x="158" y="346.00" width="2" height="50.00" fill="#33ccff"/><rect x="151" y="341" width="5" height="2" fill="#33ccff"/><rect x="163" y="341" width="5" height="2" fill="#33ccff"/><use href="#m22" x="159" y="342"/><rect x="174" y="295.00" width="2" height="46.00" fill="#33ccff"/><rect x="174" y="348.00" width="2" height="46.00" fill="#33ccff"/><rect x="167" y="343" width="5" height="2" fill="#33ccff"/><rect x="179" y="343" width="5" height="2" fill="#33ccff"/><use href="#m22" x="175" y="344"/><rect x="190" y="330.00" width="2" height="42.00" fill="#33ccff"/><rect x="190" y="379.00" width="2" height="43.00" fill="#33ccff"/><rect x="183" y="374" width="5" height="2" fill="#33ccff"/><rect x="195" y="374" width="5" height="2" fill="#33ccff"/><use href="#m22" x="191" y="375"/><rect x="206" y="291.00" width="2" height="43.00" fill="#33ccff"/><rect x="206" y="341.00" width="2" height="43.00" fill="#33ccff"/><rect x="199" y="336" width="5" height="2" fill="#33ccff"/><rect x="211" y="336" width="5" height="2" fill="#33ccff"/><use href="#m22" x="207" y="337"/><rect x="222" y="350.00" width="2" height="40.00" fill="#33ccff"/><rect x="222" y="397.00" width="2" height="41.00" fill="#33ccff"/><rect x="215" y="392" width="5" height="2" fill="#33ccff"/><rect x="227" y="392" width="5" height="2" fill="#33ccff"/><use href="#m22" x="223" y="393"/><rect x="238" y="334.00" width="2" height="40.00" fill="#33ccff"/><rect x="238" y="381.00" width="2" height="40.00" fill="#33ccff"/><rect x="231" y="376" width="5" height="2" fill="#33ccff"/><rect x="243" y="376" width="5" height="2" fill="#33ccff"/><use href="#m22" x="239" y="377"/><rect x="254" y="336.00" width="2" height="39.00" fill="#33ccff"/><rect x="254" y="382.00" width="2" height="39.00" fill="#33ccff"/><rect x="247" y="377" width="5" height="2" fill="#33ccff"/><rect x="259" y="377" width="5" height="2" fill="#33ccff"/><use href="#m22" x="255" y="378"/><rect x="270" y="320.00" width="2" height="41.00" fill="#33ccff"/><rect x="270" y="368.00" width="2" height="40.00" fill="#33ccff"/><rect x="263" y="363" width="5" height="2" fill="#33ccff"/><rect x="275" y="363" width="5" height="2" fill="#33ccff"/><use href="#m22" x="271" y="364"/><rect x="286" y="323.00" width="2" height="41.00" fill="#33ccff"/><rect x="286" y="371.00" width="2" height="40.00" fill="#33ccff"/><rect x="279" y="366" width="5" height="2" fill="#33ccff"/><rect x="291" y="366" width="5" height="2" fill="#33ccff"/><use href="#m22" x="287" y="367"/><rect x="301" y="328.00" width="2" height="39.00" fill="#33ccff"/><rect x="301" y="374.00" width="2" height="37.00" fill="#33ccff"/><rect x="295" y="369" width="4" height="2" fill="#33ccff"/><rect x="306" y="369" width="5" height="2" fill="#33ccff"/><use href="#m22" x="302" y="370"/><rect x="317" y="322.00" width="2" height="40.00" fill="#33ccff"/><rect x="317" y="369.00" width="2" height="40.00" fill="#33ccff"/><rect x="310" y="364" width="5" height="2" fill="#33ccff"/><rect x="322" y="364" width="5" height="2" fill="#33ccff"/><use href="#m22" x="318" y="365"/><rect x="333" y="340.00" width="2" height="38.00" fill="#33ccff"/><rect x="333" y="385.00" width="2" height="37.00" fill="#33ccff"/><rect x="326" y="380" width="5" height="2" fill="#33ccff"/><rect x="338" y="380" width="5" height="2" fill="#33ccff"/><use href="#m22" x="334" y="381"/><rect x="349" y="334.00" width="2" height="39.00" fill="#33ccff"/><rect x="349" y="380.00" width="2" height="38.00" fill="#33ccff"/><rect x="342" y="375" width="5" height="2" fill="#33ccff"/><rect x="354" y="375" width="5" height="2" fill="#33ccff"/><use href="#m22" x="350" y="376"/><rect x="381" y="349.00" width="2" height="36.00" fill="#33ccff"/><rect x="381" y="392.00" width="2" height="37.00" fill="#33ccff"/><rect x="374" y="387" width="5" height="2" fill="#33ccff"/><rect x="386" y="387" width="5" height="2" fill="#33ccff"/><use href="#m22" x="382" y="388"/><rect x="397" y="335.00" width="2" height="38.00" fill="#33ccff"/><rect x="397" y="380.00" width="2" height="39.00" fill="#33ccff"/><rect x="390" y="375" width="5" height="2" fill="#33ccff"/><rect x="402" y="375" width="5" height="2" fill="#33ccff"/><use href="#m22" x="398" y="376"/><rect x="413" y="349.00" width="2" height="41.00" fill="#33ccff"/><rect x="413" y="397.00" width="2" height="40.00" fill="#33ccff"/><rect x="406" y="392" width="5" height="2" fill="#33ccff"/><rect x="418" y="392" width="5" height="2" fill="#33ccff"/><use href="#m22" x="414" y="393"/><rect x="429" y="327.00" width="2" height="39.00" fill="#33ccff"/><rect x="429" y="373.00" width="2" height="39.00" fill="#33ccff"/><rect x="422" y="368" width="5" height="2" fill="#33ccff"/><rect x="434" y="368" width="5" height="2" fill="#33ccff"/><use href="#m22" x="430" y="369"/><rect x="445" y="362.00" width="2" height="37.00" fill="#33ccff"/><rect x="445" y="406.00" width="2" height="36.00" fill="#33ccff"/><rect x="438" y="401" width="5" height="2" fill="#33ccff"/><rect x="450" y="401" width="5" height="2" fill="#33ccff"/><use href="#m22" x="446" y="402"/><rect x="461" y="337.00" width="2" height="36.00" fill="#33ccff"/><rect x="461" y="380.00" width="2" height="37.00" fill="#33ccff"/><rect x="454" y="375" width="5" height="2" fill="#33ccff"/><rect x="466" y="375" width="5" height="2" fill="#33ccff"/><use href="#m22" x="462" y="376"/><rect x="477" y="347.00" width="2" height="39.00" fill="#33ccff"/><rect x="477" y="393.00" width="2" height="37.00" fill="#33ccff"/><rect x="470" y="388" width="5" height="2" fill="#33ccff"/><rect x="482" y="388" width="5" height="2" fill="#33ccff"/><use href="#m22" x="478" y="389"/><rect x="493" y="370.00" width="2" height="36.00" fill="#33ccff"/><rect x="493" y="413.00" width="2" height="36.00" fill="#33ccff"/><rect x="486" y="408" width="5" height="2" fill="#33ccff"/><rect x="498" y="408" width="5" height="2" fill="#33ccff"/><use href="#m22" x="494" y="409"/><rect x="509" y="367.00" width="2" height="36.00" fill="#33ccff"/><rect x="509" y="410.00" width="2" height="37.00" fill="#33ccff"/><rect x="502" y="405" width="5" height="2" fill="#33ccff"/><rect x="514" y="405" width="5" height="2" fill="#33ccff"/><use href="#m22" x="510" y="406"/><rect x="525" y="356.00" width="2" height="36.00" fill="#33ccff"/><rect x="525" y="399.00" width="2" height="35.00" fill="#33ccff"/><rect x="518" y="394" width="5" height="2" fill="#33ccff"/><rect x="530" y="394" width="5" height="2" fill="#33ccff"/><use href="#m22" x="526" y="395"/><rect x="541" y="353.00" width="2" height="39.00" fill="#33ccff"/><rect x="541" y="399.00" width="2" height="38.00" fill="#33ccff"/><rect x="534" y="394" width="5" height="2" fill="#33ccff"/><rect x="546" y="394" width="5" height="2" fill="#33ccff"/><use href="#m22" x="542" y="395"/><rect x="557" y="361.00" width="2" height="37.00" fill="#33ccff"/><rect x="557" y="405.00" width="2" height="37.00" fill="#33ccff"/><rect x="550" y="400" width="5" height="2" fill="#33ccff"/><rect x="562" y="400" width="5" height="2" fill="#33ccff"/><use href="#m22" x="558" y="401"/><rect x="573" y="328.00" width="2" height="36.00" fill="#33ccff"/><rect x="573" y="371.00" width="2" height="37.00" fill="#33ccff"/><rect x="566" y="366" width="5" height="2" fill="#33ccff"/><rect x="578" y="366" width="5" height="2" fill="#33ccff"/><use href="#m22" x="574" y="367"/><rect x="589" y="355.00" width="2" height="35.00" fill="#33ccff"/><rect x="589" y="397.00" width="2" height="35.00" fill="#33ccff"/><rect x="582" y="392" width="5" height="2" fill="#33ccff"/><rect x="594" y="392" width="5" height="2" fill="#33ccff"/><use href="#m22" x="590" y="393"/><rect x="604" y="371.00" width="2" height="36.00" fill="#33ccff"/><rect x="604" y="414.00" width="2" height="36.00" fill="#33ccff"/><rect x="598" y="409" width="4" height="2" fill="#33ccff"/><rect x="609" y="409" width="5" height="2" fill="#33ccff"/><use href="#m22" x="605" y="410"/><rect x="620" y="391.00" width="2" height="35.00" fill="#33ccff"/><rect x="620" y="433.00" width="2" height="35.00" fill="#33ccff"/><rect x="613" y="428" width="5" height="2" fill="#33ccff"/><rect x="625" y="428" width="5" height="2" fill="#33ccff"/><use href="#m22" x="621" y="429"/><rect x="636" y="276.00" width="2" height="38.00" fill="#33ccff"/><rect x="636" y="321.00" width="2" height="38.00" fill="#33ccff"/><rect x="629" y="316" width="5" height="2" fill="#33ccff"/><rect x="641" y="316" width="5" height="2" fill="#33ccff"/><use href="#m22" x="637" y="317"/><rect x="652" y="263.00" width="2" height="41.00" fill="#33ccff"/><rect x="652" y="311.00" width="2" height="41.00" fill="#33ccff"/><rect x="645" y="306" width="5" height="2" fill="#33ccff"/><rect x="657" y="306" width="5" height="2" fill="#33ccff"/><use href="#m22" x="653" y="307"/><rect x="668" y="256.00" width="2" height="42.00" fill="#33ccff"/><rect x="668" y="305.00" width="2" height="43.00" fill="#33ccff"/><rect x="661" y="300" width="5" height="2" fill="#33ccff"/><rect x="673" y="300" width="5" height="2" fill="#33ccff"/><use href="#m22" x="669" y="301"/><rect x="684" y="240.00" width="2" height="42.00" fill="#33ccff"/><rect x="684" y="289.00" width="2" height="41.00" fill="#33ccff"/><rect x="677" y="284" width="5" height="2" fill="#33ccff"/><rect x="689" y="284" width="5" height="2" fill="#33ccff"/><use href="#m22" x="685" y="285"/><rect x="700" y="261.00" width="2" height="40.00" fill="#33ccff"/><rect x="700" y="308.00" width="2" height="38.00" fill="#33ccff"/><rect x="693" y="303" width="5" height="2" fill="#33ccff"/><rect x="705" y="303" width="5" height="2" fill="#33ccff"/><use href="#m22" x="701" y="304"/><rect x="716" y="254.00" width="2" height="42.00" fill="#33ccff"/><rect x="716" y="303.00" width="2" height="42.00" fill="#33ccff"/><rect x="709" y="298" width="5" height="2" fill="#33ccff"/><rect x="721" y="298" width="5" height="2" fill="#33ccff"/><use href="#m22" x="717" y="299"/><rect x="732" y="251.00" width="2" height="45.00" fill="#33ccff"/><rect x="732" y="303.00" width="2" height="45.00" fill="#33ccff"/><rect x="725" y="298" width="5" height="2" fill="#33ccff"/><rect x="737" y="298" width="5" height="2" fill="#33ccff"/><use href="#m22" x="733" y="299"/><rect x="764" y="422.00" width="2" height="32.00" fill="#33ccff"/><rect x="764" y="461.00" width="2" height="33.00" fill="#33ccff"/><rect x="757" y="456" width="5" height="2" fill="#33ccff"/><rect x="769" y="456" width="5" height="2" fill="#33ccff"/><use href="#m22" x="765" y="457"/><rect x="780" y="382.00" width="2" height="36.00" fill="#33ccff"/><rect x="780" y="425.00" width="2" height="35.00" fill="#33ccff"/><rect x="773" y="420" width="5" height="2" fill="#33ccff"/><rect x="785" y="420" width="5" height="2" fill="#33ccff"/><use href="#m22" x="781" y="421"/><rect x="796" y="398.00" width="2" height="36.00" fill="#33ccff"/><rect x="796" y="441.00" width="2" height="36.00" fill="#33ccff"/><rect x="789" y="436" width="5" height="2" fill="#33ccff"/><rect x="801" y="436" width="5" height="2" fill="#33ccff"/><use href="#m22" x="797" y="437"/><rect x="812" y="399.00" width="2" height="36.00" fill="#33ccff"/><rect x="812" y="442.00" width="2" height="35.00" fill="#33ccff"/><rect x="805" y="437" width="5" height="2" fill="#33ccff"/><rect x="817" y="437" width="5" height="2" fill="#33ccff"/><use href="#m22" x="813" y="438"/><rect x="828" y="433.00" width="2" height="33.00" fill="#33ccff"/><rect x="828" y="473.00" width="2" height="33.00" fill="#33ccff"/><rect x="821" y="468" width="5" height="2" fill="#33ccff"/><rect x="833" y="468" width="5" height="2" fill="#33ccff"/><use href="#m22" x="829" y="469"/><rect x="844" y="446.00" width="2" height="31.00" fill="#33ccff"/><rect x="844" y="484.00" width="2" height="31.00" fill="#33ccff"/><rect x="837" y="479" width="5" height="2" fill="#33ccff"/><rect x="849" y="479" width="5" height="2" fill="#33ccff"/><use href="#m22" x="845" y="480"/><rect x="860" y="398.00" width="2" height="40.00" fill="#33ccff"/><rect x="860" y="445.00" width="2" height="40.00" fill="#33ccff"/><rect x="853" y="440" width="5" height="2" fill="#33ccff"/><rect x="865" y="440" width="5" height="2" fill="#33ccff"/><use href="#m22" x="861" y="441"/><rect x="876" y="450.00" width="2" height="36.00" fill="#33ccff"/><rect x="876" y="493.00" width="2" height="36.00" fill="#33ccff"/><rect x="869" y="488" width="5" height="2" fill="#33ccff"/><rect x="881" y="488" width="5" height="2" fill="#33ccff"/><use href="#m22" x="877" y="489"/><rect x="892" y="434.00" width="2" height="36.00" fill="#33ccff"/><rect x="892" y="477.00" width="2" height="36.00" fill="#33ccff"/><rect x="885" y="472" width="5" height="2" fill="#33ccff"/><rect x="897" y="472" width="4" height="2" fill="#33ccff"/><use href="#m22" x="893" y="473"/><rect x="907" y="404.00" width="2" height="38.00" fill="#33ccff"/><rect x="907" y="449.00" width="2" height="37.00" fill="#33ccff"/><rect x="900" y="444" width="5" height="2" fill="#33ccff"/><rect x="912" y="444" width="5" height="2" fill="#33ccff"/><use href="#m22" x="908" y="445"/><rect x="923" y="424.00" width="2" height="39.00" fill="#33ccff"/><rect x="923" y="470.00" width="2" height="38.00" fill="#33ccff"/><rect x="916" y="465" width="5" height="2" fill="#33ccff"/><rect x="928" y="465" width="5" height="2" fill="#33ccff"/><use href="#m22" x="924" y="466"/><rect x="939" y="442.00" width="2" height="35.00" fill="#33ccff"/><rect x="939" y="484.00" width="2" height="36.00" fill="#33ccff"/><rect x="932" y="479" width="5" height="2" fill="#33ccff"/><rect x="944" y="479" width="5" height="2" fill="#33ccff"/><use href="#m22" x="940" y="480"/><rect x="955" y="422.00" width="2" height="37.00" fill="#33ccff"/><rect x="955" y="466.00" width="2" height="36.00" fill="#33ccff"/><rect x="948" y="461" width="5" height="2" fill="#33ccff"/><rect x="960" y="461" width="5" height="2" fill="#33ccff"/><use href="#m22" x="956" y="462"/><rect x="971" y="409.00" width="2" height="40.00" fill="#33ccff"/><rect x="971" y="456.00" width="2" height="40.00" fill="#33ccff"/><rect x="964" y="451" width="5" height="2" fill="#33ccff"/><rect x="976" y="451" width="5" height="2" fill="#33ccff"/><use href="#m22" x="972" y="452"/><rect x="987" y="414.00" width="2" height="44.00" fill="#33ccff"/><rect x="987" y="465.00" width="2" height="43.00" fill="#33ccff"/><rect x="980" y="460" width="5" height="2" fill="#33ccff"/><rect x="992" y="460" width="5" height="2" fill="#33ccff"/><use href="#m22" x="988" y="461"/><rect x="1003" y="385.00" width="2" height="48.00" fill="#33ccff"/><rect x="1003" y="440.00" width="2" height="46.00" fill="#33ccff"/><rect x="996" y="435" width="5" height="2" fill="#33ccff"/><rect x="1008" y="435" width="5" height="2" fill="#33ccff"/><use href="#m22" x="1004" y="436"/>
<rect x="183" y="675" width="1" height="19" fill="#000"/><rect x="263" y="675" width="1" height="19" fill="#000"/><rect x="342" y="675" width="1" height="19" fill="#000"/><rect x="422" y="675" width="1" height="19" fill="#000"/><rect x="502" y="675" width="1" height="19" fill="#000"/><rect x="582" y="675" width="1" height="19" fill="#000"/><rect x="661" y="675" width="1" height="19" fill="#000"/><rect x="741" y="675" width="1" height="19" fill="#000"/><rect x="821" y="675" width="1" height="19" fill="#000"/><rect x="900" y="675" width="1" height="19" fill="#000"/><rect x="980" y="675" width="1" height="19" fill="#000"/><rect x="1060" y="675" width="1" height="19" fill="#000"/><rect x="120" y="628" width="22" height="1" fill="#000"/><rect x="120" y="562" width="22" height="1" fill="#000"/><rect x="120" y="496" width="22" height="1" fill="#000"/><rect x="120" y="430" width="22" height="1" fill="#000"/><rect x="120" y="363" width="22" height="1" fill="#000"/><rect x="120" y="297" width="22" height="1" fill="#000"/>
<rect x="119.5" y="231.5" width="957" height="463" fill="none" stroke="#000" stroke-width="1"/>
<g font-size="29">
<g font-size="30.5"><text transform="translate(183.5,723.5) scale(0.93,1)" text-anchor="middle">5</text><text transform="translate(270.8,723.5) scale(0.93,1)" text-anchor="middle">0</text><path d="M257.10,702.00 L257.10,722.80 L254.29,722.80 L254.29,708.24 L250.13,708.24 L250.13,706.16 C254.81,706.16 253.88,704.91 254.57,702.00 Z" fill="#000"/><text transform="translate(349.8,723.5) scale(0.93,1)" text-anchor="middle">5</text><path d="M336.10,702.00 L336.10,722.80 L333.29,722.80 L333.29,708.24 L329.13,708.24 L329.13,706.16 C333.81,706.16 332.88,704.91 333.57,702.00 Z" fill="#000"/><text transform="translate(422.5,723.5) scale(0.93,1)" text-anchor="middle">20</text><text transform="translate(502.5,723.5) scale(0.93,1)" text-anchor="middle">25</text><text transform="translate(582.5,723.5) scale(0.93,1)" text-anchor="middle">30</text><text transform="translate(661.5,723.5) scale(0.93,1)" text-anchor="middle">35</text><text transform="translate(741.5,723.5) scale(0.93,1)" text-anchor="middle">40</text><text transform="translate(821.5,723.5) scale(0.93,1)" text-anchor="middle">45</text><text transform="translate(900.5,723.5) scale(0.93,1)" text-anchor="middle">50</text><text transform="translate(980.5,723.5) scale(0.93,1)" text-anchor="middle">55</text><text transform="translate(1060.5,723.5) scale(0.93,1)" text-anchor="middle">60</text>
<text transform="translate(113.5,705.5) scale(0.93,1)" text-anchor="end">0.3</text><text transform="translate(113.5,639.5) scale(0.93,1)" text-anchor="end">0.4</text><text transform="translate(113.5,573.5) scale(0.93,1)" text-anchor="end">0.5</text><text transform="translate(113.5,507.5) scale(0.93,1)" text-anchor="end">0.6</text><text transform="translate(113.5,441.5) scale(0.93,1)" text-anchor="end">0.7</text><text transform="translate(113.5,374.5) scale(0.93,1)" text-anchor="end">0.8</text><text transform="translate(113.5,308.5) scale(0.93,1)" text-anchor="end">0.9</text><path d="M112.20,221.50 L112.20,242.30 L109.39,242.30 L109.39,227.74 L105.23,227.74 L105.23,225.66 C109.91,225.66 108.98,224.41 109.67,221.50 Z" fill="#000"/></g>
<text x="1078" y="755.3" text-anchor="end">Cell</text>
<text transform="translate(51,392.6) rotate(-90)" x="-2" y="0">Hit efficiency</text>
</g>
</svg>
</body></html>
